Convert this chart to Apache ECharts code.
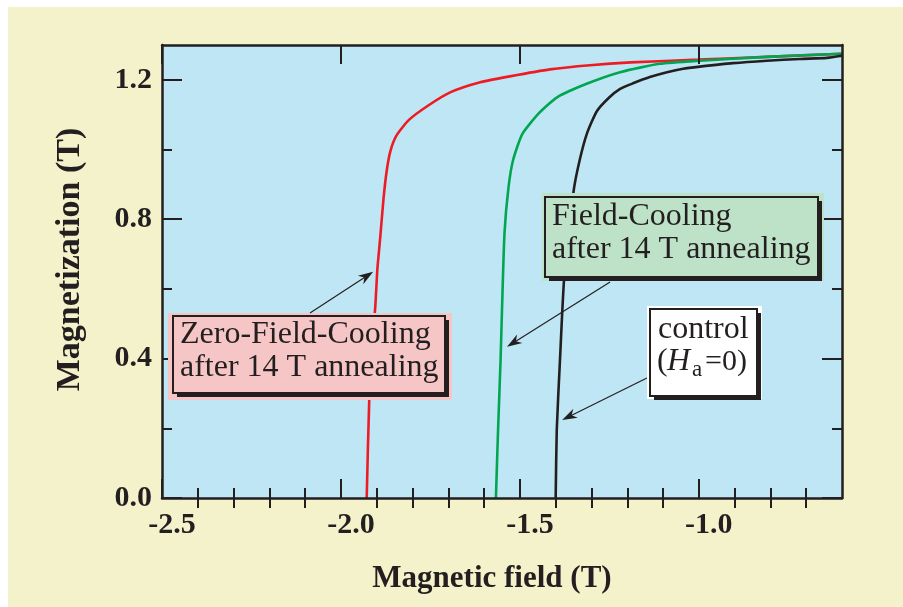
<!DOCTYPE html>
<html>
<head>
<meta charset="utf-8">
<script src="https://cdn.jsdelivr.net/npm/echarts@6/dist/echarts.min.js"></script>
<style>
  html, body { margin: 0; padding: 0; background: #fff; }
  #paper { position: absolute; left: 8px; top: 7px; right: 0; bottom: 0; background: #f3f2cb; }
  #chart { position: absolute; left: 0; top: 0; width: 903px; height: 607px; }
</style>
</head>
<body>
<div id="paper"></div>
<div id="chart"></div>
<script>
// axis ticks
const xMajor = [-2.5, -2.0, -1.5, -1.0];
const xMinor = [-2.4, -2.3, -2.2, -2.1, -1.9, -1.8, -1.7, -1.6, -1.4, -1.3, -1.2, -1.1, -0.9, -0.8, -0.7];
const yMajor = [0, 0.4, 0.8, 1.2];
const yMinor = [0.2, 0.6, 1.0];

// [field (T), magnetization (T)]
const zfcCurve = [
    [-1.928, 0], [-1.921, 0.28], [-1.912, 0.45], [-1.904, 0.55], [-1.898, 0.66],
    [-1.890, 0.75], [-1.881, 0.86], [-1.872, 0.94], [-1.862, 0.995], [-1.845, 1.04],
    [-1.810, 1.085], [-1.755, 1.127], [-1.695, 1.164], [-1.611, 1.193], [-1.528, 1.210],
    [-1.416, 1.230], [-1.304, 1.242], [-1.19, 1.250], [-1.0, 1.258], [-0.81, 1.266], [-0.6, 1.275]
];
const fcCurve = [
    [-1.567, 0], [-1.561, 0.195], [-1.554, 0.396], [-1.550, 0.54], [-1.543, 0.76],
    [-1.532, 0.89], [-1.519, 0.970], [-1.493, 1.045], [-1.446, 1.105], [-1.396, 1.150],
    [-1.310, 1.190], [-1.22, 1.222], [-1.109, 1.246], [-0.997, 1.255], [-0.81, 1.266], [-0.6, 1.275]
];
const controlCurve = [
    [-1.400, 0], [-1.397, 0.195], [-1.388, 0.396], [-1.376, 0.635], [-1.350, 0.88],
    [-1.334, 0.965], [-1.313, 1.045], [-1.285, 1.110], [-1.252, 1.148], [-1.22, 1.174],
    [-1.184, 1.190], [-1.137, 1.208], [-1.089, 1.222], [-1.044, 1.232], [-0.997, 1.238],
    [-0.905, 1.248], [-0.81, 1.255], [-0.717, 1.260], [-0.642, 1.263], [-0.6, 1.269]
];

// annotation boxes (pixels) and arrows (data coords)
const notes = [
    {
        bg: [168, 313, 284, 87], box: [173, 316, 272, 77], fill: '#f5c6c5',
        textX: 180, baselines: [345, 378], lines: ['Zero-Field-Cooling', 'after 14 T annealing'],
        tail: [-2.0865, 0.531], tip: [-1.910, 0.649]
    },
    {
        bg: [542, 193, 282, 88], box: [545, 197, 273, 80], fill: '#bde2c8',
        textX: 552, baselines: [227, 260], lines: ['Field-Cooling', 'after 14 T annealing'],
        tail: [-1.248, 0.620], tip: [-1.536, 0.434]
    },
    {
        bg: [647, 306, 115, 93], box: [650, 309, 107, 87], fill: '#ffffff',
        textX: 658, baselines: [340, 372], lines: ['control'],
        tail: [-1.145, 0.3445], tip: [-1.382, 0.224]
    }
];

const INK = '#231f20';
const SERIF = '"Liberation Serif", "Times New Roman", serif';

const chart = echarts.init(document.getElementById('chart'), null, { renderer: 'canvas' });

function axisBase(extra) {
    return Object.assign({
        type: 'value',
        splitLine: { show: false },
        axisLine: { show: true, onZero: false, lineStyle: { color: INK, width: 2.5 } },
        axisLabel: { show: false },
        z: 5
    }, extra);
}

const tickLabel = {
    show: true,
    color: INK,
    fontFamily: SERIF,
    fontWeight: 'bold',
    fontSize: 30,
    formatter: v => v.toFixed(1)
};

const option = {
    backgroundColor: 'transparent',
    animation: false,
    grid: {
        left: 162, right: 61, top: 45, bottom: 109,
        show: true, backgroundColor: '#bfe6f4', borderWidth: 0
    },
    xAxis: [
        axisBase({
            position: 'bottom', min: -2.5, max: -0.6,
            axisTick: { inside: true, length: 19, lineStyle: { color: INK, width: 2 }, customValues: xMajor },
            axisLabel: Object.assign({}, tickLabel, { margin: 12, padding: [0, 0, 0, 20], customValues: xMajor }),
            name: 'Magnetic field (T)', nameLocation: 'middle', nameGap: 65,
            nameTextStyle: { color: INK, fontFamily: SERIF, fontWeight: 'bold', fontSize: 31, padding: [0, 20, 0, 0] }
        }),
        axisBase({
            position: 'bottom', min: -2.5, max: -0.6, axisLine: { show: false },
            axisTick: { inside: true, length: 10, lineStyle: { color: INK, width: 2 }, customValues: xMinor }
        }),
        axisBase({
            position: 'top', min: -2.5, max: -0.6,
            axisTick: { inside: true, length: 19, lineStyle: { color: INK, width: 2 }, customValues: xMajor }
        }),
        axisBase({
            position: 'top', min: -2.5, max: -0.6, axisLine: { show: false },
            axisTick: { inside: true, length: 10, lineStyle: { color: INK, width: 2 }, customValues: xMinor }
        })
    ],
    yAxis: [
        axisBase({
            position: 'left', min: 0, max: 1.3,
            axisTick: { inside: true, length: 20, lineStyle: { color: INK, width: 2 }, customValues: yMajor },
            axisLabel: Object.assign({}, tickLabel, { margin: 10, customValues: yMajor }),
            name: 'Magnetization (T)', nameLocation: 'middle', nameGap: 75,
            nameTextStyle: { color: INK, fontFamily: SERIF, fontWeight: 'bold', fontSize: 34, padding: [0, 0, 0, 24] }
        }),
        axisBase({
            position: 'left', min: 0, max: 1.3, axisLine: { show: false },
            axisTick: { inside: true, length: 10, lineStyle: { color: INK, width: 2 }, customValues: yMinor }
        }),
        axisBase({
            position: 'right', min: 0, max: 1.3,
            axisTick: { inside: true, length: 20, lineStyle: { color: INK, width: 2 }, customValues: yMajor }
        }),
        axisBase({
            position: 'right', min: 0, max: 1.3, axisLine: { show: false },
            axisTick: { inside: true, length: 10, lineStyle: { color: INK, width: 2 }, customValues: yMinor }
        })
    ],
    series: [
        { name: 'ZFC', data: zfcCurve, color: '#ed1c24' },
        { name: 'FC', data: fcCurve, color: '#00a651' },
        { name: 'control', data: controlCurve, color: INK }
    ].map(s => ({
        type: 'line',
        name: s.name,
        data: s.data,
        xAxisIndex: 0,
        yAxisIndex: 0,
        showSymbol: false,
        symbol: 'none',
        smooth: 0.2,
        lineStyle: { color: s.color, width: 2.6 },
        z: 3
    }))
};

chart.setOption(option);

// annotation boxes with drop shadow, text and arrows
function textEl(str, x, baseline, size, extra) {
    return {
        type: 'text', z: 20,
        style: Object.assign({
            text: str, x: x, y: baseline - size * 0.34,
            font: size + 'px ' + SERIF, fill: INK,
            align: 'left', verticalAlign: 'middle'
        }, extra || {})
    };
}

const graphics = [];
notes.forEach(function (n) {
    const [gx, gy, gw, gh] = n.bg;
    const [bx, by, bw, bh] = n.box;
    graphics.push({ type: 'rect', z: 10, shape: { x: gx, y: gy, width: gw, height: gh }, style: { fill: n.fill } });
    graphics.push({ type: 'rect', z: 11, shape: { x: bx + 4, y: by + 4, width: bw, height: bh }, style: { fill: INK } });
    graphics.push({ type: 'rect', z: 12, shape: { x: bx, y: by, width: bw, height: bh }, style: { fill: n.fill, stroke: INK, lineWidth: 2 } });
    n.lines.forEach(function (line, i) {
        graphics.push(textEl(line, n.textX, n.baselines[i], 32));
    });

    const p0 = chart.convertToPixel({ xAxisIndex: 0, yAxisIndex: 0 }, n.tail);
    const p1 = chart.convertToPixel({ xAxisIndex: 0, yAxisIndex: 0 }, n.tip);
    const dx = p1[0] - p0[0], dy = p1[1] - p0[1];
    const len = Math.sqrt(dx * dx + dy * dy);
    const ux = dx / len, uy = dy / len;
    const L = 15, W = 5;
    graphics.push({
        type: 'line', z: 15,
        shape: { x1: p0[0], y1: p0[1], x2: p1[0] - ux * L * 0.6, y2: p1[1] - uy * L * 0.6 },
        style: { stroke: INK, lineWidth: 1.2 }
    });
    graphics.push({
        type: 'polygon', z: 15,
        shape: {
            points: [
                [p1[0], p1[1]],
                [p1[0] - ux * L - uy * W, p1[1] - uy * L + ux * W],
                [p1[0] - ux * L * 0.7, p1[1] - uy * L * 0.7],
                [p1[0] - ux * L + uy * W, p1[1] - uy * L - ux * W]
            ]
        },
        style: { fill: INK }
    });
});

// second line of the control box: (H_a =0)
graphics.push(textEl('(', 657, 372, 32));
graphics.push(textEl('H', 667, 372, 32, { font: 'italic 32px ' + SERIF }));
graphics.push(textEl('a', 692, 378, 23));
graphics.push(textEl('=0)', 705, 372, 30));

chart.setOption({ graphic: { elements: graphics } });

window.addEventListener('resize', function () {
    chart.resize();
});
</script>
</body>
</html>
